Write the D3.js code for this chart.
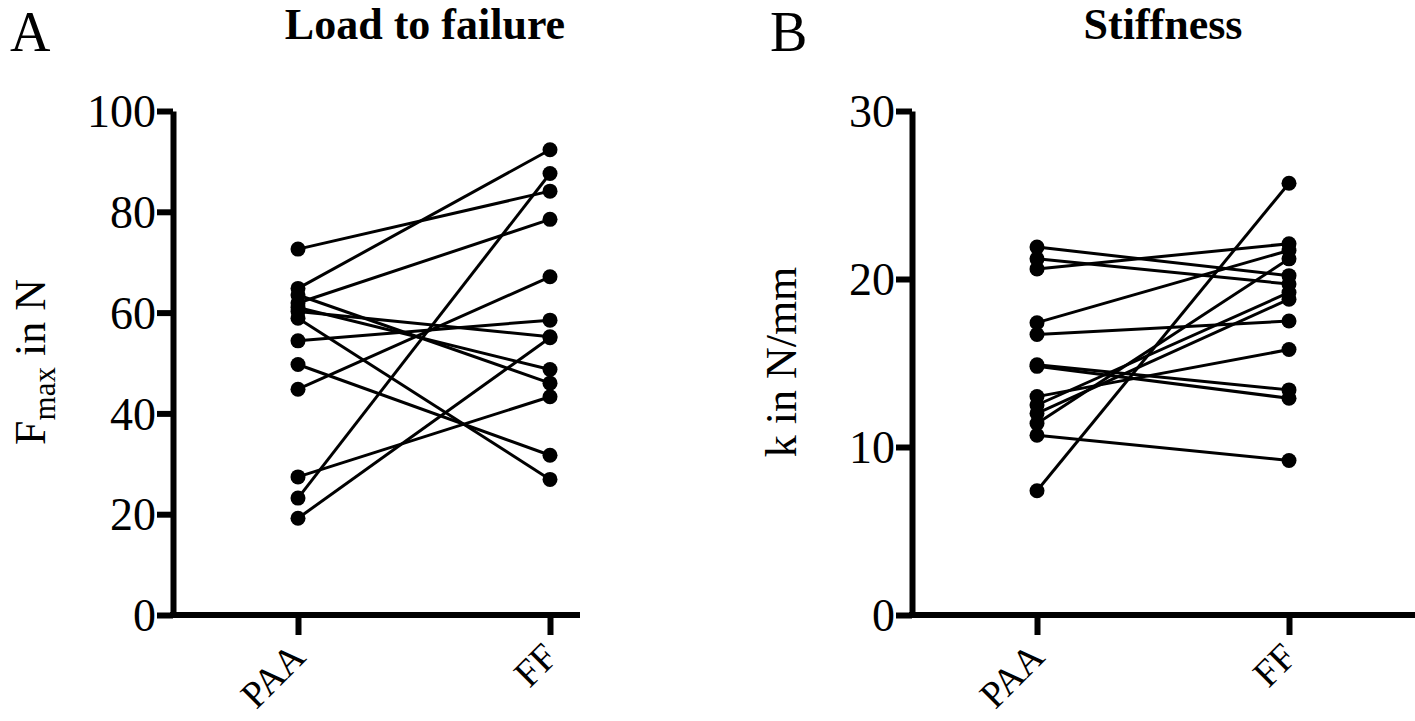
<!DOCTYPE html>
<html>
<head>
<meta charset="utf-8">
<script src="https://cdn.jsdelivr.net/npm/d3@7"></script>
<style>
    body { margin: 0; background: #fff; }
    svg { display: block; font-family: "Liberation Serif", "Times New Roman", serif; }
</style>
</head>
<body>
<svg id="chart" width="1415" height="721"></svg>
<script>

// groups on the x axis
var groups = ['PAA', 'FF'];

// panel A: load to failure (N), one entry per specimen pair
var loadPAA = [72.6, 64.8, 63.5, 61.9, 61.0, 60.2, 58.9, 54.4, 49.7, 44.8, 27.4, 23.2, 19.2];
var loadFF = [84.1, 92.3, 46.0, 78.5, 48.7, 55.2, 26.9, 58.5, 31.7, 67.1, 43.3, 87.6, 55.0];
var loadTicks = [0, 20, 40, 60, 80, 100];

// panel B: stiffness (N/mm)
var stiffPAA = [21.9, 21.2, 20.6, 17.4, 16.7, 14.9, 14.8, 13.0, 12.5, 12.0, 11.4, 10.7, 7.4];
var stiffFF = [20.2, 19.7, 22.1, 21.7, 17.5, 13.4, 12.9, 15.8, 19.2, 18.8, 21.2, 9.2, 25.7];
var stiffTicks = [0, 10, 20, 30];

var svg = d3.select('#chart');

// draws one before/after panel
function drawPanel(opts) {
    var g = svg.append('g').attr('transform', 'translate(' + opts.left + ',0)');
    var top = 111, bottom = 615;

    var y = d3.scaleLinear()
        .domain([0, opts.max])
        .range([bottom, top]);

    var x = d3.scalePoint()
        .domain(groups)
        .range([125, 377]);

    // pairs of points
    var pairs = opts.before.map(function (d, i) {
        return [{ g: groups[0], v: d }, { g: groups[1], v: opts.after[i] }];
    });

    var line = d3.line()
        .x(function (d) { return x(d.g); })
        .y(function (d) { return y(d.v); });

    g.selectAll('path.pair')
        .data(pairs)
        .enter().append('path')
        .attr('class', 'pair')
        .attr('d', line)
        .attr('fill', 'none')
        .attr('stroke', '#000')
        .attr('stroke-width', 3);

    var dots = [];
    pairs.forEach(function (p) { dots.push(p[0], p[1]); });

    g.selectAll('circle')
        .data(dots)
        .enter().append('circle')
        .attr('cx', function (d) { return x(d.g); })
        .attr('cy', function (d) { return y(d.v); })
        .attr('r', 7.5)
        .attr('fill', '#000');

    // y axis
    var yAxis = g.append('g')
        .call(d3.axisLeft(y).tickValues(opts.ticks).tickSize(16).tickSizeOuter(0).tickPadding(1));

    // x axis
    var xAxis = g.append('g')
        .attr('transform', 'translate(0,' + bottom + ')')
        .call(d3.axisBottom(x).tickSize(20).tickSizeOuter(0));
    xAxis.select('.domain').remove();
    xAxis.append('line')
        .attr('x1', -3).attr('x2', opts.axisEnd)
        .attr('stroke', '#000')
        .attr('stroke-width', 6);

    [yAxis, xAxis].forEach(function (a) {
        a.selectAll('path, line').attr('stroke', '#000').attr('stroke-width', 6);
        a.selectAll('text')
            .attr('fill', '#000')
            .style('font-family', '"Liberation Serif", serif')
            .style('font-size', '46px');
    });
    yAxis.selectAll('text').attr('dy', '0.34em');

    xAxis.selectAll('text')
        .style('font-size', '38px')
        .attr('text-anchor', 'end')
        .attr('dy', 0)
        .attr('transform', 'translate(9,44) rotate(-45)')
        .attr('y', 0)
        .attr('x', 0);

    // title
    svg.append('text')
        .attr('x', opts.left + opts.titleX)
        .attr('y', 39)
        .attr('text-anchor', 'middle')
        .style('font-size', '44px')
        .style('font-weight', 'bold')
        .text(opts.title);

    // panel letter
    svg.append('text')
        .attr('x', opts.left + opts.letterX)
        .attr('y', 51)
        .style('font-size', '56px')
        .text(opts.letter);

    // y label
    var lab = svg.append('text')
        .attr('transform', 'translate(' + (opts.left + opts.labelX) + ',' + 362 + ') rotate(-90)')
        .attr('text-anchor', 'middle')
        .style('font-size', '44px');
    opts.label(lab);
}

drawPanel({
    left: 173, max: 100, ticks: loadTicks,
    before: loadPAA, after: loadFF,
    axisEnd: 407, title: 'Load to failure', titleX: 252,
    letter: 'A', letterX: -163, labelX: -128,
    label: function (t) {
        t.append('tspan').text('F');
        t.append('tspan').attr('dy', 10).style('font-size', '31px').text('max');
        t.append('tspan').attr('dy', -10).text(' in N');
    }
});

drawPanel({
    left: 912, max: 30, ticks: stiffTicks,
    before: stiffPAA, after: stiffFF,
    axisEnd: 503, title: 'Stiffness', titleX: 251,
    letter: 'B', letterX: -142, labelX: -116,
    label: function (t) { t.text('k in N/mm'); }
});

</script>
</body>
</html>
